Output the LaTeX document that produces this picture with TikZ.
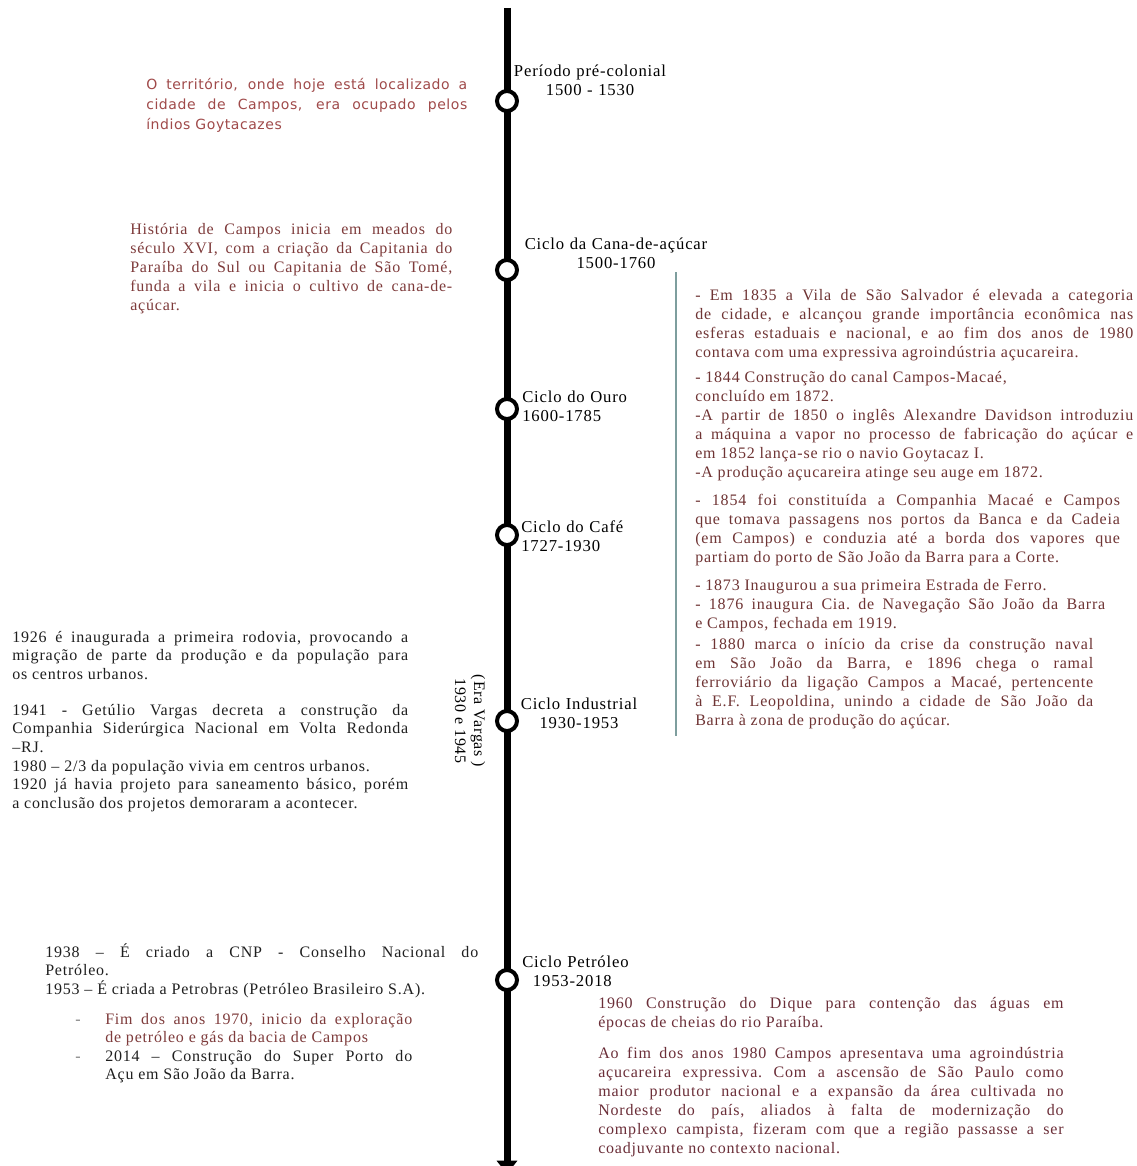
\documentclass[tikz,border=0pt]{standalone}
\usepackage{fontspec}
\setmainfont{Liberation Serif}[LetterSpace=5]
\newfontfamily\sansf{DejaVu Sans}[LetterSpace=4]
\usetikzlibrary{arrows.meta}
\definecolor{cRedSans}{HTML}{A04A4A}
\definecolor{cHist}{HTML}{7E3B3B}
\definecolor{cRight}{HTML}{6F3434}
\definecolor{cBody}{HTML}{1F1F1F}
\definecolor{cBar}{HTML}{7E9E9E}
\definecolor{cBottom}{HTML}{6B2E38}
\tikzset{
  para/.style={anchor=base west, inner sep=0pt, align=justify, font=\fontsize{12}{14.25}\selectfont\frenchspacing},
  lbl/.style={inner sep=0pt, font=\fontsize{12.5}{14.25}\selectfont, text=black},
  dot/.style={circle, draw=black, fill=white, line width=3pt, minimum size=15pt, inner sep=0pt},
  spine/.style={line width=5.25pt, black, -{Triangle[width=15pt,length=10pt]}},
  bar/.style={draw=cBar, line width=0.9pt}
}
\begin{document}
\begin{tikzpicture}[x=0.75pt,y=-0.75pt]
\useasboundingbox (0,0) rectangle (1136,1166);
\fill[white] (0,0) rectangle (1136,1166);

% spine
\coordinate (top) at (507,8);
\coordinate (bottom) at (507,1174);
\draw[spine] (top) -- (bottom);

% side bar
\coordinate (barTop) at (676,272);
\coordinate (barBot) at (676,736);
\draw[bar] (barTop) -- (barBot);

% circles
\node[dot] (c1) at (507,101) {};
\node[dot] (c2) at (507,270) {};
\node[dot] (c3) at (507,409) {};
\node[dot] (c4) at (507,535) {};
\node[dot] (c5) at (507,721) {};
\node[dot] (c6) at (507,980) {};

% period labels
\node[lbl, anchor=base, text width=160pt, align=center] (l1) at (590,77) {Período pré-colonial\\1500 - 1530};
\node[lbl, anchor=base, text width=180pt, align=center] (l2) at (616,249) {Ciclo da Cana-de-açúcar\\1500-1760};
\node[lbl, anchor=base west, text width=120pt, align=left] (l3) at (522,402) {Ciclo do Ouro\\1600-1785};
\node[lbl, anchor=base west, text width=120pt, align=left] (l4) at (521,532) {Ciclo do Café\\1727-1930};
\node[lbl, anchor=base, text width=150pt, align=center] (l5) at (579,709) {Ciclo Industrial\\1930-1953};
\node[lbl, anchor=base west, text width=120pt, align=left] (l6) at (522,967) {Ciclo Petróleo\\\hspace*{8pt}1953-2018};
\node[lbl, rotate=-90, align=center, font=\fontsize{12}{14.25}\selectfont] (era) at (470,721) {(Era Vargas )\\1930 e 1945};

% top-left sans paragraph
\node[para, text width=240.75pt, text=cRedSans, font=\sansf\fontsize{10.5}{15}\selectfont] (p1) at (146,90)
{O território, onde hoje está localizado a\linebreak cidade de Campos, era ocupado pelos\linebreak índios Goytacazes};

% história
\node[para, text width=241.5pt, text=cHist] (p2) at (130,234)
{História de Campos inicia em meados do\linebreak século XVI, com a criação da Capitania do\linebreak Paraíba do Sul ou Capitania de São Tomé,\linebreak funda a vila e inicia o cultivo de cana-de-\linebreak açúcar.};

% right block
\node[para, text width=328.5pt, text=cRight] (p3) at (695,300)
{- Em 1835 a Vila de São Salvador é elevada a categoria\linebreak de cidade, e alcançou grande importância econômica nas\linebreak esferas estaduais e nacional, e ao fim dos anos de 1980\linebreak contava com uma expressiva agroindústria açucareira.\par
\vspace{5pt}
- 1844 Construção do canal Campos-Macaé,\\ concluído em 1872.\\ -A partir de 1850 o inglês Alexandre Davidson introduziu\linebreak a máquina a vapor no processo de fabricação do açúcar e\linebreak em 1852 lança-se rio o navio Goytacaz I.\\ -A produção açucareira atinge seu auge em 1872.\par
\vspace{6.5pt}
{\rightskip=10pt - 1854 foi constituída a Companhia Macaé e Campos\linebreak que tomava passagens nos portos da Banca e da Cadeia\linebreak (em Campos) e conduzia até a borda dos vapores que\linebreak partiam do porto de São João da Barra para a Corte.\par}
\vspace{6.5pt}
{\rightskip=21pt - 1873 Inaugurou a sua primeira Estrada de Ferro.\\ - 1876 inaugura Cia. de Navegação São João da Barra\linebreak e Campos, fechada em 1919.\par}
\vspace{1.5pt}
{\rightskip=30pt - 1880 marca o início da crise da construção naval\linebreak em São João da Barra, e 1896 chega o ramal\linebreak ferroviário da ligação Campos a Macaé, pertencente\linebreak à E.F. Leopoldina, unindo a cidade de São João da\linebreak Barra à zona de produção do açúcar.\par}};

% left middle black
\node[para, text width=297pt, text=cBody, font=\fontsize{12}{14}\selectfont\frenchspacing] (p4) at (12,642)
{1926 é inaugurada a primeira rodovia, provocando a\linebreak migração de parte da produção e da população para\linebreak os centros urbanos.\par
\vspace{12.75pt}
1941 - Getúlio Vargas decreta a construção da\linebreak Companhia Siderúrgica Nacional em Volta Redonda\linebreak –RJ.\\ 1980 – 2/3 da população vivia em centros urbanos.\\ 1920 já havia projeto para saneamento básico, porém\linebreak a conclusão dos projetos demoraram a acontecer.};

% left bottom black
\node[para, text width=324.75pt, text=cBody, font=\fontsize{12}{14}\selectfont\frenchspacing] (p5) at (45,957)
{1938 – É criado a CNP - Conselho Nacional do\linebreak Petróleo.\\ 1953 – É criada a Petrobras (Petróleo Brasileiro S.A).};

% bullets
\node[para, text width=252.75pt, text=cBody, font=\fontsize{12}{13.9}\selectfont\frenchspacing] (p6) at (75,1024)
{{\hangindent=22.5pt\hangafter=1\noindent\makebox[22.5pt][l]{\textcolor{gray}{-}}\textcolor{cHist}{Fim dos anos 1970, inicio da exploração\linebreak de petróleo e gás da bacia de Campos}\par}
{\hangindent=22.5pt\hangafter=1\noindent\makebox[22.5pt][l]{\textcolor{gray}{-}}2014 – Construção do Super Porto do\linebreak Açu em São João da Barra.\par}};

% right bottom
\node[para, text width=349pt, text=cBottom] (p7) at (598,1008)
{1960 Construção do Dique para contenção das águas em\linebreak épocas de cheias do rio Paraíba.\par
\vspace{9pt}
Ao fim dos anos 1980 Campos apresentava uma agroindústria\linebreak açucareira expressiva. Com a ascensão de São Paulo como\linebreak maior produtor nacional e a expansão da área cultivada no\linebreak Nordeste do país, aliados à falta de modernização do\linebreak complexo campista, fizeram com que a região passasse a ser\linebreak coadjuvante no contexto nacional.};
\end{tikzpicture}
\end{document}
